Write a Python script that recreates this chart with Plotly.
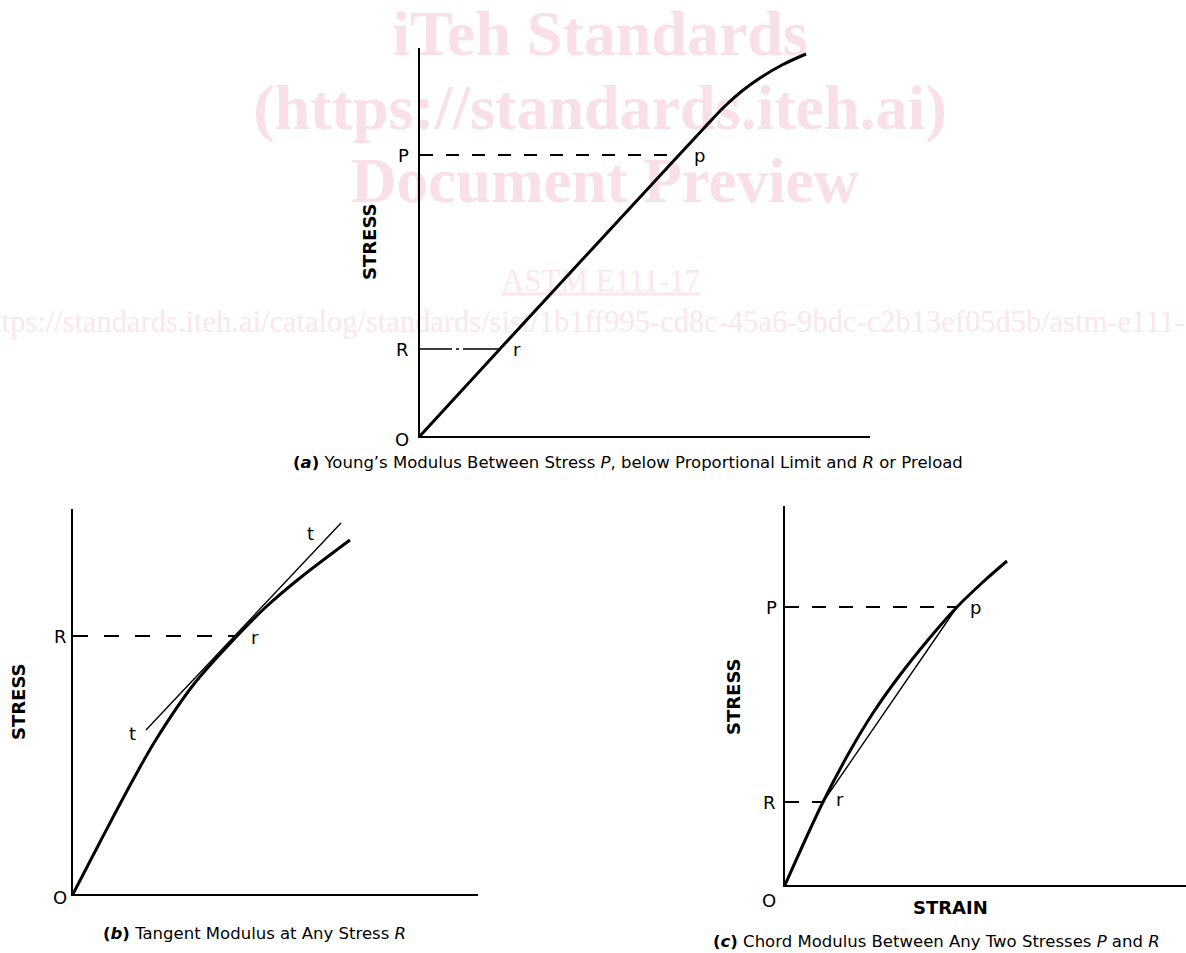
import plotly.graph_objects as go

W, H = 1186, 953

# ---------------- data (arbitrary strain/stress units) ----------------
# Panel (a): Young's modulus
a_strain = [0, 79, 259, 285, 305, 322, 340, 362, 386]
a_stress = [0, 86, 281, 309, 330, 345, 358, 371, 382]
a_P, a_p_strain = 281, 259
a_R, a_r_strain = 87, 79

# Panel (b): tangent modulus
b_strain = [0, 27, 61, 84, 121, 164, 194, 227, 277]
b_stress = [0, 52, 116, 156, 210, 258, 288, 316, 354]
b_tan_strain = [73, 268]
b_tan_stress = [164, 371]
b_R, b_r_strain = 258, 164

# Panel (c): chord modulus
c_strain = [0, 38, 65, 88, 115, 148, 172, 198, 222]
c_stress = [0, 83, 134, 172, 210, 251, 278, 303, 324]
c_chord_strain = [38, 172]
c_chord_stress = [83, 278]
c_P, c_p_strain = 278, 172
c_R, c_r_strain = 83, 38

FONT = "DejaVu Sans"
SERIF = "Liberation Serif"

fig = go.Figure()

def curve(x, y, ax, width=3, dash=None, shape="spline"):
    fig.add_trace(go.Scatter(
        x=x, y=y, mode="lines", xaxis="x" + ax, yaxis="y" + ax,
        line=dict(color="black", width=width, dash=dash, shape=shape),
        hoverinfo="skip", showlegend=False))

# panel a
curve(a_strain, a_stress, "")
curve([0, a_p_strain], [a_P, a_P], "", width=2, dash="13px,13px", shape="linear")
curve([0, a_r_strain], [a_R, a_R], "", width=1.6, dash="32px,4px,3px,4px,60px", shape="linear")
# panel b
curve(b_strain, b_stress, "2")
curve(b_tan_strain, b_tan_stress, "2", width=1.4, shape="linear")
curve([0, b_r_strain], [b_R, b_R], "2", width=2, dash="15px,16px", shape="linear")
# panel c
curve(c_strain, c_stress, "3")
curve(c_chord_strain, c_chord_stress, "3", width=1.4, shape="linear")
curve([0, c_p_strain], [c_P, c_P], "3", width=2, dash="14px,13px", shape="linear")
curve([0, c_r_strain], [c_R, c_R], "3", width=2, dash="14px,13px", shape="linear")

ax_common = dict(showline=True, linecolor="black", linewidth=2, showgrid=False,
                 zeroline=False, showticklabels=False, ticks="", fixedrange=True)

def xd(a, b):
    return [a / W, min(b / W, 1.0)]

def yd(top, bottom):
    return [1 - bottom / H, 1 - top / H]

fig.update_layout(
    xaxis=dict(domain=xd(420, 870), range=[0, 450], anchor="y", **ax_common),
    yaxis=dict(domain=yd(48, 436), range=[0, 388], anchor="x", **ax_common),
    xaxis2=dict(domain=xd(73, 478), range=[0, 405], anchor="y2", **ax_common),
    yaxis2=dict(domain=yd(509, 894), range=[0, 385], anchor="x2", **ax_common),
    xaxis3=dict(domain=xd(785, 1186), range=[0, 401], anchor="y3", **ax_common),
    yaxis3=dict(domain=yd(506, 885), range=[0, 379], anchor="x3", **ax_common),
)

annotations = []

def lab(text, ax, x, y, xanchor, xshift=0, yshift=0, size=18):
    annotations.append(dict(text=text, xref="x" + ax, yref="y" + ax, x=x, y=y,
                            xanchor=xanchor, yanchor="middle", xshift=xshift, yshift=yshift,
                            showarrow=False, font=dict(family=FONT, size=size, color="black")))

def ptxt(text, px, py, size=18, angle=0, xanchor="center"):
    annotations.append(dict(text=text, xref="paper", yref="paper", x=px / W, y=1 - py / H,
                            xanchor=xanchor, yanchor="middle", textangle=angle,
                            showarrow=False, font=dict(family=FONT, size=size, color="black")))

# panel a labels
lab("P", "", 0, a_P, "right", -9)
lab("R", "", 0, a_R, "right", -9)
lab("O", "", 0, 0, "right", -9, -3)
lab("p", "", a_p_strain, a_P, "left", 13)
lab("r", "", a_r_strain, a_R, "left", 12)
# panel b labels
lab("R", "2", 0, b_R, "right", -4)
lab("O", "2", 0, 0, "right", -4, -3)
lab("r", "2", b_r_strain, b_R, "left", 12, -1)
lab("t", "2", b_tan_strain[1], b_tan_stress[1], "right", -25, -10)
lab("t", "2", b_tan_strain[0], b_tan_stress[0], "right", -8, -3)
# panel c labels
lab("P", "3", 0, c_P, "right", -6)
lab("R", "3", 0, c_R, "right", -7)
lab("O", "3", 0, 0, "right", -7, -15)
lab("p", "3", c_p_strain, c_P, "left", 11)
lab("r", "3", c_r_strain, c_R, "left", 11, 3)

# axis titles
ptxt("<b>STRESS</b>", 369, 242, angle=-90)
ptxt("<b>STRESS</b>", 18, 702, angle=-90)
ptxt("<b>STRESS</b>", 733, 697, angle=-90)
ptxt("<b>STRAIN</b>", 950, 907)

# captions
ptxt("<b>(<i>a</i>)</b> Young\u2019s Modulus Between Stress <i>P</i>, below Proportional Limit and <i>R</i> or Preload",
     628, 462, size=16.5)
ptxt("<b>(<i>b</i>)</b> Tangent Modulus at Any Stress <i>R</i>", 254, 933, size=16.5)
ptxt("<b>(<i>c</i>)</b> Chord Modulus Between Any Two Stresses <i>P</i> and <i>R</i>", 936, 941, size=16.5)

# watermark (drawn beneath the plot)
shapes = []

def wm(text, cx, cy, size, color, pos="middle center"):
    shapes.append(dict(type="rect", xref="paper", yref="paper",
                       x0=(cx - 1) / W, x1=(cx + 1) / W, y0=1 - (cy + 1) / H, y1=1 - (cy - 1) / H,
                       line=dict(width=0), fillcolor="rgba(0,0,0,0)", layer="below",
                       label=dict(text=text, textposition=pos, padding=0,
                                  font=dict(family=SERIF, size=size, color=color))))

BIG = "#f9dfe7"
SMALL = "#fbe6ed"
wm("<b>iTeh Standards</b>", 600, 26, 64, BIG)
wm("<b>(https://standards.iteh.ai)</b>", 600, 100, 64, BIG)
wm("<b>Document Preview</b>", 605, 174, 63, BIG)
wm("<u>ASTM E111-17</u>", 601, 277, 31, SMALL)
wm("https://standards.iteh.ai/catalog/standards/sist/1b1ff995-cd8c-45a6-9bdc-c2b13ef05d5b/astm-e111-17",
   -24, 318, 30.5, SMALL, pos="middle left")

fig.update_layout(
    width=W, height=H, autosize=False,
    margin=dict(l=0, r=0, t=0, b=0),
    paper_bgcolor="white", plot_bgcolor="rgba(0,0,0,0)",
    showlegend=False, hovermode=False,
    annotations=annotations, shapes=shapes,
)

fig.write_html("out.html", config={"displayModeBar": False},
               post_script="document.body.style.margin='0px';")
